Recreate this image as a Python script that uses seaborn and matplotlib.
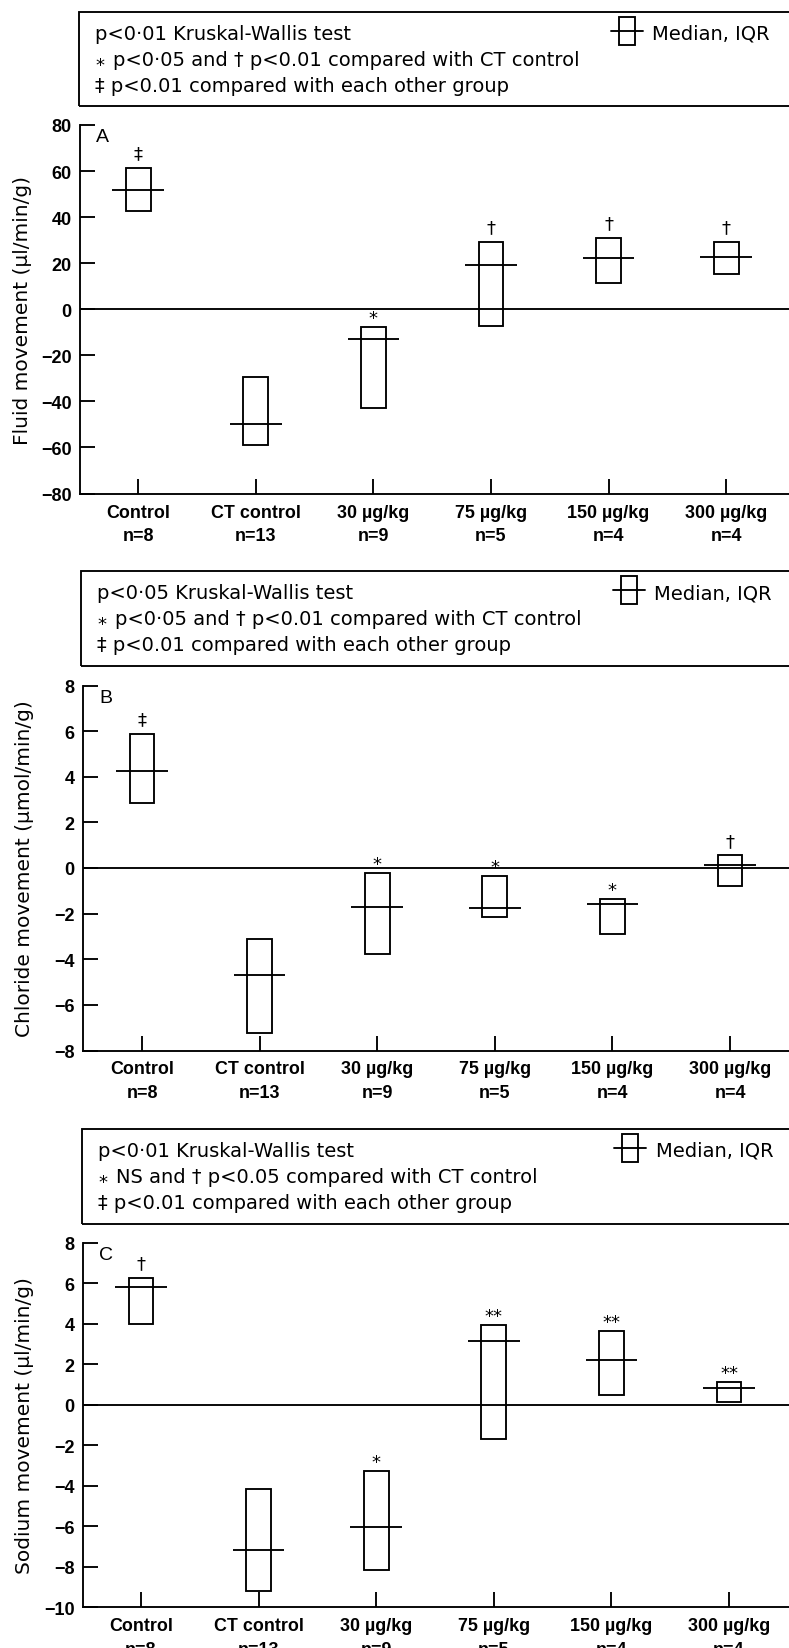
import matplotlib
matplotlib.use("Agg")
import matplotlib.pyplot as plt
from matplotlib.patches import Rectangle
from matplotlib.lines import Line2D
import seaborn as sns
import pandas as pd
import numpy as np

# ---------------- data ----------------
groups = ["Control", "CT control", "30 µg/kg", "75 µg/kg", "150 µg/kg", "300 µg/kg"]
group_n = ["n=8", "n=13", "n=9", "n=5", "n=4", "n=4"]

fluid_q1 = [42.8, -59.1, -42.8, -7.4, 11.3, 15.2]
fluid_median = [51.8, -49.7, -12.8, 19.3, 22.1, 22.8]
fluid_q3 = [61.3, -29.4, -7.7, 29.2, 30.9, 29.3]
fluid_sig = ["‡", "", "*", "†", "†", "†"]

chloride_q1 = [2.83, -7.25, -3.77, -2.13, -2.89, -0.77]
chloride_median = [4.27, -4.69, -1.72, -1.77, -1.59, 0.11]
chloride_q3 = [5.88, -3.10, -0.21, -0.36, -1.34, 0.56]
chloride_sig = ["‡", "", "*", "*", "*", "†"]

sodium_q1 = [3.98, -9.17, -8.13, -1.71, 0.47, 0.14]
sodium_median = [5.82, -7.17, -6.03, 3.16, 2.23, 0.83]
sodium_q3 = [6.27, -4.18, -3.25, 3.92, 3.65, 1.14]
sodium_sig = ["†", "", "*", "**", "**", "**"]

fluid_yticks = [-80, -60, -40, -20, 0, 20, 40, 60, 80]
chloride_yticks = [-8, -6, -4, -2, 0, 2, 4, 6, 8]
sodium_yticks = [-10, -8, -6, -4, -2, 0, 2, 4, 6, 8]

fluid_legend = ["p<0·01 Kruskal-Wallis test",
                "p<0·05 and † p<0.01 compared with CT control",
                "‡ p<0.01 compared with each other group"]
chloride_legend = ["p<0·05 Kruskal-Wallis test",
                   "p<0·05 and † p<0.01 compared with CT control",
                   "‡ p<0.01 compared with each other group"]
sodium_legend = ["p<0·01 Kruskal-Wallis test",
                 "NS and † p<0.05 compared with CT control",
                 "‡ p<0.01 compared with each other group"]
legend_key = "Median, IQR"

# ---------------- style ----------------
sns.set_style("ticks")
plt.rcParams["font.family"] = ["DejaVu Sans"]
plt.rcParams["axes.unicode_minus"] = True
for k in ("text.color", "axes.labelcolor", "xtick.color", "ytick.color",
          "axes.edgecolor"):
    plt.rcParams[k] = "black"

W, H = 789, 1649
fig = plt.figure(figsize=(W / 100, H / 100), dpi=100)
PT = 0.72  # points per pixel at 100 dpi
LW = 1.35


def fx(x):
    return x / W


def fy(y):
    return 1 - y / H


def draw_legend(box_left, box_top, lines):
    box_h = 94.5
    fig.add_artist(Rectangle((fx(box_left), fy(box_top + box_h)), fx(800 - box_left),
                             box_h / H, transform=fig.transFigure, fill=False,
                             edgecolor="black", linewidth=LW, clip_on=False))
    base = [box_top + 27, box_top + 53.5, box_top + 79.5]
    fig.text(fx(box_left + 16.5), fy(base[0]), lines[0], fontsize=14,
             ha="left", va="baseline", color="black")
    fig.text(fx(box_left + 21), fy(base[1] - 0.5), "*", fontsize=13,
             ha="center", va="center", color="black")
    fig.text(fx(box_left + 34), fy(base[1]), lines[1], fontsize=14,
             ha="left", va="baseline", color="black")
    fig.text(fx(box_left + 16.5), fy(base[2]), lines[2], fontsize=14,
             ha="left", va="baseline", color="black")
    # key symbol
    sx = box_left + 540
    fig.add_artist(Rectangle((fx(sx), fy(box_top + 33.3)), 16 / W, 28 / H,
                             transform=fig.transFigure, fill=False,
                             edgecolor="black", linewidth=LW))
    fig.add_artist(Line2D([fx(sx - 8), fx(sx + 24)], [fy(box_top + 19)] * 2,
                          transform=fig.transFigure, color="black", linewidth=LW))
    fig.text(fx(box_left + 573.5), fy(base[0]), legend_key, fontsize=14,
             ha="left", va="baseline", color="black")


def draw_panel(ax_left, ax_top, ax_bottom, x_first, letter, ylabel, yticks,
               q1, med, q3, sig, ylabel_x):
    ax = fig.add_axes([fx(ax_left), fy(ax_bottom), fx(W - ax_left),
                       (ax_bottom - ax_top) / H])
    spacing = 117.6
    df = pd.DataFrame({"group": groups, "q1": q1, "median": med,
                       "iqr": np.array(q3) - np.array(q1)})
    sns.barplot(data=df, x="group", y="iqr", order=groups, ax=ax,
                bottom=df["q1"].to_numpy(), width=0.21, fill=False,
                color="black", linewidth=LW, errorbar=None)
    xs = np.arange(len(groups))
    ax.hlines(df["median"], xs - 0.22, xs + 0.22, color="black", linewidth=LW)
    ax.axhline(0, color="black", linewidth=LW)

    left_lim = (ax_left - x_first) / spacing
    ax.set_xlim(left_lim, left_lim + (W - ax_left) / spacing)
    ax.set_ylim(yticks[0], yticks[-1])
    ax.set_yticks(yticks)
    ax.set_xticks(xs)
    ax.set_xticklabels([f"{g}\n{n}" for g, n in zip(groups, group_n)],
                       fontsize=12.9, family="Liberation Sans", fontweight="bold",
                       linespacing=1.5, color="black")
    for lab in ax.get_yticklabels():
        lab.set_fontfamily("Liberation Sans")
        lab.set_fontweight("bold")
        lab.set_fontsize(13)
        lab.set_color("black")
    ax.tick_params(axis="both", direction="in", length=15 * PT, width=LW,
                   color="black", labelcolor="black")
    ax.tick_params(axis="x", pad=7.2)
    ax.tick_params(axis="y", pad=6)
    ax.set_xlabel("")
    ax.set_ylabel("")
    sns.despine(ax=ax, top=True, right=True)
    for s in ("left", "bottom"):
        ax.spines[s].set_linewidth(LW)
        ax.spines[s].set_color("black")

    for i, s in enumerate(sig):
        if not s:
            continue
        off = 6.5 if "*" in s else 10.5
        ax.annotate(s, xy=(i, q3[i]), xytext=(0, off), textcoords="offset points",
                    ha="center", va="center", fontsize=13, color="black")

    ax.text(22.7 / (W - ax_left), 1 - 12 / (ax_bottom - ax_top), letter,
            transform=ax.transAxes, ha="center", va="center", fontsize=14,
            family="Liberation Sans", color="black")
    fig.text(fx(ylabel_x), fy((ax_top + ax_bottom) / 2), ylabel, rotation=90,
             ha="center", va="center", fontsize=14.5, color="black")
    return ax


draw_legend(78.7, 12.7, fluid_legend)
draw_panel(80, 126, 494.5, 138.2, "A", "Fluid movement (µl/min/g)", fluid_yticks,
           fluid_q1, fluid_median, fluid_q3, fluid_sig, 23)

draw_legend(80.7, 572, chloride_legend)
draw_panel(83, 686.5, 1051.5, 142.0, "B", "Chloride movement (µmol/min/g)",
           chloride_yticks, chloride_q1, chloride_median, chloride_q3,
           chloride_sig, 25)

draw_legend(82, 1130, sodium_legend)
draw_panel(83, 1243.6, 1608.4, 141.0, "C", "Sodium movement (µl/min/g)",
           sodium_yticks, sodium_q1, sodium_median, sodium_q3, sodium_sig, 25)

fig.savefig("out.png", dpi=100)
